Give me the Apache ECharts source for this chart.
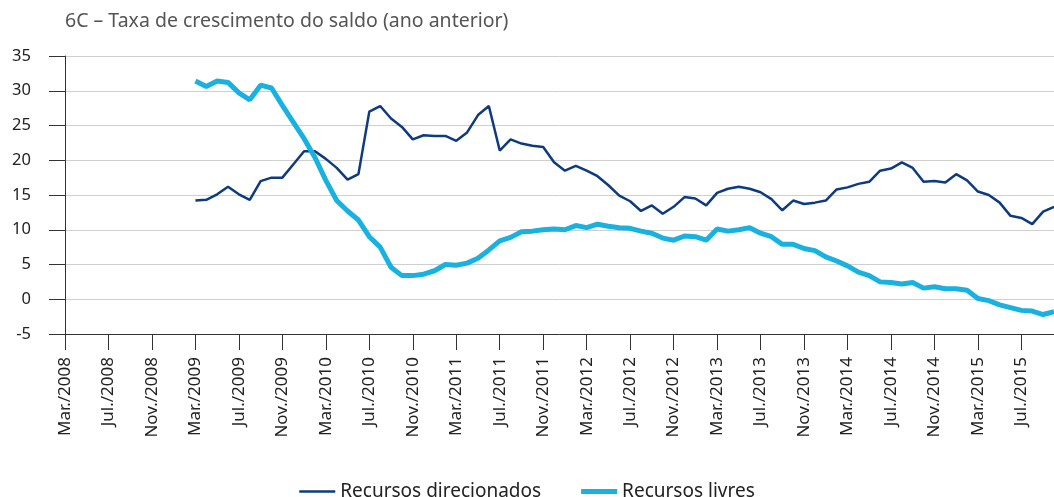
<!DOCTYPE html>
<html>
<head>
<meta charset="utf-8">
<script src="https://cdn.jsdelivr.net/npm/echarts@6/dist/echarts.min.js"></script>
<style>
  html, body { margin: 0; padding: 0; background: #fff; }
  #main { width: 1054px; height: 497px; }
</style>
</head>
<body>
<div id="main"></div>
<script>
// months Mar/2008 .. Oct/2015
const monthNames = ["Jan.", "Fev.", "Mar.", "Abr.", "Mai.", "Jun.", "Jul.", "Ago.", "Set.", "Out.", "Nov.", "Dez."];
const categories = [];
for (let y = 2008; y <= 2015; y++) {
    for (let m = 0; m < 12; m++) {
        if (y === 2008 && m < 2) continue;
        if (y === 2015 && m > 9) continue;
        categories.push(monthNames[m] + "/" + y);
    }
}

// Mar/2009 onwards (first 12 months empty)
const empty = new Array(12).fill(null);
const direcionados = empty.concat([
    14.2, 14.3, 15.1, 16.2, 15.1, 14.3, 17.0, 17.5, 17.5, 19.4,
    21.3, 21.3, 20.2, 18.9, 17.2, 18.0, 27.0, 27.8, 26.0, 24.8,
    23.0, 23.6, 23.5, 23.5, 22.8, 24.0, 26.5, 27.8, 21.4, 23.0,
    22.4, 22.1, 21.9, 19.7, 18.5, 19.2, 18.5, 17.7, 16.4, 14.9,
    14.1, 12.7, 13.5, 12.3, 13.3, 14.7, 14.5, 13.5, 15.3, 15.9,
    16.2, 15.9, 15.4, 14.4, 12.8, 14.2, 13.7, 13.9, 14.2, 15.8,
    16.1, 16.6, 16.9, 18.5, 18.8, 19.7, 18.9, 16.9, 17.0, 16.8,
    18.0, 17.1, 15.5, 15.0, 13.9, 12.0, 11.7, 10.8, 12.6, 13.3
]);
const livres = empty.concat([
    31.4, 30.6, 31.4, 31.2, 29.7, 28.7, 30.8, 30.4, 27.9, 25.5,
    23.1, 20.4, 17.1, 14.2, 12.7, 11.4, 9.0, 7.5, 4.6, 3.4,
    3.4, 3.6, 4.1, 5.0, 4.9, 5.2, 5.9, 7.1, 8.4, 8.9,
    9.7, 9.8, 10.0, 10.1, 10.0, 10.6, 10.3, 10.8, 10.5, 10.3,
    10.2, 9.8, 9.5, 8.8, 8.5, 9.1, 9.0, 8.5, 10.1, 9.8,
    10.0, 10.3, 9.5, 9.0, 7.9, 7.9, 7.3, 7.0, 6.1, 5.5,
    4.8, 3.9, 3.4, 2.5, 2.4, 2.2, 2.4, 1.6, 1.8, 1.5,
    1.5, 1.3, 0.1, -0.2, -0.8, -1.2, -1.6, -1.7, -2.2, -1.8
]);

const font = "'Noto Sans', 'Open Sans', sans-serif";

const myChart = echarts.init(document.getElementById('main'));
myChart.setOption({
    animation: false,
    title: {
        text: "6C \u2013 Taxa de crescimento do saldo (ano anterior)",
        left: 60,
        top: 6,
        textStyle: { fontFamily: font, fontSize: 19.5, fontWeight: 'normal', color: '#555' }
    },
    grid: { left: 65, right: 0, top: 56, bottom: 163, containLabel: false },
    legend: {
        top: 477,
        left: 'center',
        itemWidth: 36,
        itemHeight: 10,
        itemGap: 40,
        textStyle: { fontFamily: font, fontSize: 19, color: '#222' },
        data: [
            { name: "Recursos direcionados", icon: 'path://M0,0H36V2.5H0Z' },
            { name: "Recursos livres", icon: 'path://M0,0H36V5H0Z' }
        ]
    },
    xAxis: {
        type: 'category',
        data: categories,
        boundaryGap: false,
        axisLine: { onZero: false, lineStyle: { color: '#333', width: 1 } },
        axisTick: { interval: 3, length: 16, lineStyle: { color: '#333' } },
        axisLabel: {
            interval: 3, rotate: 90, margin: 23,
            fontFamily: font, fontSize: 17, color: '#222'
        },
        splitLine: { show: false }
    },
    yAxis: {
        type: 'value',
        min: -5, max: 35, interval: 5,
        axisLine: { show: true, lineStyle: { color: '#333', width: 1 } },
        axisTick: { show: true, length: 16, lineStyle: { color: '#333' } },
        axisLabel: { margin: 34, fontFamily: font, fontSize: 16.5, color: '#222' },
        splitLine: { lineStyle: { color: '#cfcfcf', width: 1 } }
    },
    series: [
        {
            name: "Recursos direcionados",
            type: 'line',
            data: direcionados,
            symbol: 'none',
            color: '#0e3a80',
            lineStyle: { width: 2.5, color: '#0e3a80' }
        },
        {
            name: "Recursos livres",
            type: 'line',
            data: livres,
            symbol: 'none',
            color: '#19b1e0',
            lineStyle: { width: 5, color: '#19b1e0' }
        }
    ]
});
</script>
</body>
</html>
